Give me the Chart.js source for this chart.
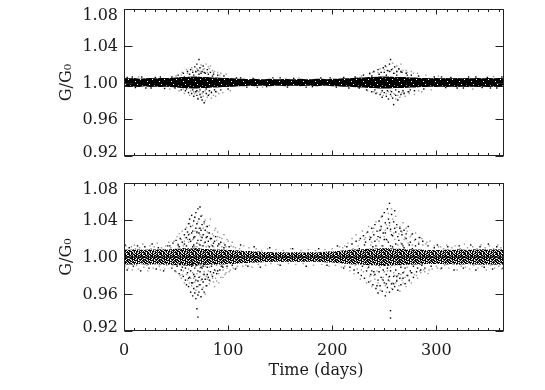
<!DOCTYPE html>
<html>
<head>
<meta charset="utf-8">
<script src="https://cdn.jsdelivr.net/npm/chart.js@4.4.1/dist/chart.umd.min.js"></script>
<style>
  body { margin: 0; background: #fff; }
  #wrap { position: relative; width: 545px; height: 390px; }
  canvas { position: absolute; left: 0; }
  #topChart { top: 0; }
  #bottomChart { top: 170px; }
</style>
</head>
<body>
<div id="wrap">
  <canvas id="topChart" width="545" height="170"></canvas>
  <canvas id="bottomChart" width="545" height="220"></canvas>
</div>
<script>
// axis ticks
const yTickValues = [0.92, 0.96, 1.00, 1.04, 1.08];
const yTickLabels = ['0.92', '0.96', '1.00', '1.04', '1.08'];
const xTickValues = [0, 100, 200, 300];
const xTickLabels = ['0', '100', '200', '300'];

// reference level G/G0 = 1
const refDays = [0, 365];
const refLevel = [1.0, 1.0];

// dense core of the scatter, read as upper/lower edge every 5 days
const bandDays = [0,5,10,15,20,25,30,35,40,45,50,55,60,65,70,75,80,85,90,95,100,105,110,115,120,125,130,135,140,145,150,155,160,165,170,175,180,185,190,195,200,205,210,215,220,225,230,235,240,245,250,255,260,265,270,275,280,285,290,295,300,305,310,315,320,325,330,335,340,345,350,355,360,365];

const topBandHigh = [1.005,1.0045,1.005,1.004,1.0045,1.005,1.0045,1.005,1.005,
  1.005,1.0055,1.006,1.006,1.0065,1.0065,1.006,1.006,1.0055,1.0055,1.005,1.005,
  1.0045,1.004,1.004,1.0035,1.004,1.0035,1.0035,1.004,1.0035,1.0035,1.004,1.0035,1.0035,1.004,1.0035,1.0035,1.004,1.004,1.0035,1.004,1.004,1.0045,1.0045,
  1.005,1.0055,1.0055,1.006,1.006,1.0065,1.0065,1.0065,1.006,1.006,1.006,1.0055,1.0055,1.005,1.005,
  1.0045,1.005,1.0045,1.005,1.0045,1.005,1.0045,1.005,1.0045,1.005,1.0045,1.005,1.0045,1.005,1.0045];
const topBandLow = [0.9955,0.995,0.9955,0.995,0.996,0.995,0.9955,0.995,0.9955,
  0.995,0.9945,0.994,0.994,0.9935,0.9935,0.994,0.994,0.9945,0.9945,0.995,0.995,
  0.9955,0.996,0.996,0.9965,0.996,0.9965,0.9965,0.996,0.9965,0.9965,0.996,0.9965,0.9965,0.996,0.9965,0.9965,0.996,0.9965,0.9965,0.996,0.996,0.9955,0.9955,
  0.995,0.9945,0.9945,0.994,0.994,0.9935,0.9935,0.9935,0.994,0.994,0.994,0.9945,0.9945,0.995,0.995,
  0.9955,0.995,0.9955,0.995,0.9955,0.995,0.9955,0.995,0.9955,0.995,0.9955,0.995,0.9955,0.995,0.9955];

const bottomBandHigh = [1.008,1.0075,1.0085,1.008,1.0075,1.0085,1.008,1.0085,1.0085,
  1.0085,1.009,1.009,1.0095,1.0095,1.009,1.009,1.0085,1.0085,1.008,1.008,1.0075,
  1.0075,1.007,1.0065,1.0065,1.006,1.006,1.0055,1.0055,
  1.005,1.0055,1.005,1.005,1.0055,1.005,1.005,1.0055,1.005,1.0055,1.006,1.006,1.0065,
  1.007,1.0075,1.008,1.008,1.0085,1.009,1.009,1.0095,1.0095,1.0095,1.009,1.009,1.0085,1.0085,1.008,1.008,1.0075,1.0075,1.0075,
  1.0075,1.008,1.0075,1.0085,1.008,1.0075,1.0085,1.008,1.0085,1.008,1.0085,1.008,1.0085];
const bottomBandLow = [0.992,0.992,0.9915,0.9925,0.992,0.9915,0.9925,0.992,0.9915,
  0.9915,0.991,0.991,0.9905,0.9905,0.991,0.991,0.9915,0.9915,0.992,0.992,0.9925,
  0.9925,0.993,0.9935,0.9935,0.994,0.994,0.9945,0.9945,
  0.995,0.9945,0.995,0.995,0.9945,0.995,0.995,0.9945,0.995,0.9945,0.994,0.994,0.9935,
  0.993,0.9925,0.992,0.992,0.9915,0.991,0.991,0.9905,0.9905,0.9905,0.991,0.991,0.9915,0.9915,0.992,0.992,0.9925,0.9925,0.9925,
  0.9925,0.992,0.9925,0.9915,0.992,0.9925,0.9915,0.992,0.9915,0.992,0.9915,0.992,0.9915];

// scattered points [day, G/G0] around the core, black and grey
const topEdgeBlack = [
  [3,1.0055],[8,1.006],[11,0.9945],[17,1.006],[21,0.994],[26,0.994],[30,1.0055],[35,1.006],[39,0.9935],
  [108,1.005],[112,1.005],[118,0.995],[124,1.0045],[128,0.995],[137,0.9955],[143,1.005],[150,1.005],[157,0.995],
  [163,1.0045],[175,0.995],[181,0.9955],[189,1.005],[198,1.005],[204,0.995],[211,1.0055],[216,0.994],
  [298,1.006],[305,1.006],[309,0.9945],[314,1.0055],[320,0.994],[326,0.994],[331,1.006],[338,1.006],
  [344,0.9945],[349,1.0055],[352,0.994],[358,0.994],[363,1.006]
];
const topBurstBlack = [
  [46,1.006],[49,0.994],[52,1.008],[55,0.992],[57,1.01],[58,1.006],[59,0.991],[60,0.993],[61,1.012],[62,0.989],
  [63,1.009],[64,1.014],[65,0.988],[66,1.011],[66,0.992],[67,0.985],[67,1.008],[68,1.017],[69,0.99],[69,1.012],
  [70,1.02],[70,0.986],[70,0.991],[71,1.013],[71,0.982],[72,1.025],[72,1.009],[73,0.987],[73,1.016],[73,0.992],
  [74,0.984],[74,1.01],[75,1.012],[75,0.981],[76,1.018],[76,0.99],[77,0.978],[77,1.011],[78,1.01],[79,0.988],
  [79,0.993],[80,1.014],[81,0.986],[81,1.009],[82,0.991],[83,1.011],[84,0.989],[85,1.007],[86,1.009],[87,0.992],
  [88,0.99],[90,1.008],[93,0.992],[96,1.007],[100,0.993],
  [222,1.006],[226,0.994],[230,1.008],[233,0.992],[236,1.01],[238,0.99],[238,1.007],[240,1.012],[241,0.992],
  [242,0.988],[244,1.014],[245,1.009],[246,0.987],[247,1.011],[248,0.984],[248,0.991],[249,1.016],[250,0.989],
  [250,1.011],[251,1.018],[252,0.985],[252,1.008],[253,1.013],[253,0.991],[254,0.982],[255,1.02],[255,1.012],
  [256,1.025],[256,0.987],[257,1.014],[257,0.99],[258,0.983],[259,0.976],[259,1.01],[260,1.017],[261,0.986],
  [261,0.992],[262,1.012],[262,1.008],[263,0.981],[264,1.015],[264,0.99],[266,0.987],[266,1.012],[267,1.011],
  [268,0.991],[269,0.988],[271,1.01],[272,1.008],[273,0.99],[275,0.992],[276,1.008],[279,0.991],[283,1.007],[288,0.993]
];
const topEdgeGrey = [
  [14,1.006],[44,0.993],[133,0.995],[168,1.005],[302,1.007],[335,0.993],[355,1.0065]
];
const topBurstGrey = [
  [50,1.007],[53,0.991],[55,1.008],[56,1.011],[57,0.993],[58,0.988],[60,1.014],[61,1.01],[63,0.986],[64,0.991],
  [65,1.016],[66,1.013],[67,0.99],[68,0.988],[69,1.011],[70,1.015],[71,0.983],[72,0.99],[73,1.012],[74,1.019],
  [75,0.988],[76,0.985],[76,1.014],[77,1.015],[78,0.98],[78,0.991],[79,1.02],[80,0.984],[80,1.011],[81,1.017],
  [82,0.987],[82,1.015],[83,1.018],[84,0.983],[84,0.99],[85,1.013],[86,0.986],[86,1.011],[87,1.012],[88,0.985],
  [89,0.99],[90,1.011],[91,0.988],[92,1.008],[93,1.01],[95,0.989],[98,1.009],[102,0.991],
  [228,1.007],[234,0.991],[236,1.009],[239,1.011],[240,0.99],[243,0.989],[244,1.011],[246,1.015],[247,0.989],
  [249,0.986],[250,1.014],[252,1.017],[252,0.988],[254,0.99],[254,1.013],[256,1.012],[256,0.991],[257,0.985],
  [258,1.021],[258,1.015],[259,0.988],[260,1.01],[260,0.987],[261,0.982],[262,1.018],[262,1.012],[263,0.986],
  [264,1.014],[264,0.99],[265,0.984],[266,1.02],[266,1.011],[267,0.989],[268,1.013],[269,0.989],[270,0.985],
  [271,1.013],[272,1.011],[274,0.988],[274,0.99],[276,1.012],[278,1.01],[279,0.987],[282,1.01],[283,0.991],
  [286,0.99],[290,1.008],[295,0.992]
];

// outside the bursts the loose points are mostly grey
const bottomEdgeGrey = [
  [0,1.009],[1,0.99],[2,1.012],[3,1.008],[4,0.988],[6,0.992],[7,1.011],[8,0.986],[10,1.013],[11,1.009],
  [12,0.991],[14,0.987],[15,1.01],[17,0.993],[18,1.014],[19,0.989],[21,1.008],[22,0.991],[23,0.985],[25,1.012],
  [26,1.009],[28,0.988],[29,1.011],[30,0.992],[32,1.015],[34,0.99],[35,0.986],[36,1.01],[37,1.008],[39,0.987],
  [40,1.012],[41,0.991],[43,1.016],
  [105,1.011],[108,0.988],[111,1.009],[114,0.99],[115,1.012],[117,0.991],[120,1.01],[123,0.989],[127,1.009],
  [129,0.992],[132,1.007],[136,0.991],[138,1.009],[141,0.993],[146,1.008],[148,0.992],[153,1.007],[158,0.993],
  [160,1.009],[165,0.992],[170,1.007],[172,0.993],[177,1.008],[182,0.991],[184,1.007],[190,0.992],[193,1.008],
  [197,0.99],[200,1.009],[203,0.991],[207,1.011],[209,0.989],[212,1.012],
  [300,0.99],[302,1.011],[304,0.987],[307,1.009],[308,0.991],[310,1.013],[312,0.988],[315,1.01],[316,0.992],
  [318,1.012],[320,0.986],[323,1.009],[324,0.99],[327,1.014],[328,0.989],[330,1.01],[332,0.987],[335,1.011],
  [336,0.991],[339,1.009],[340,0.988],[343,1.013],[344,0.99],[347,1.01],[348,0.986],[351,1.012],[352,0.991],
  [355,1.009],[356,0.988],[359,1.013],[360,0.99],[362,1.01],[363,0.987],[365,1.011]
];
const bottomEdgeBlack = [
  [1,1.013],[3,0.986],[5,1.01],[9,0.99],[13,1.012],[16,0.985],[20,1.011],[24,0.988],[27,1.014],[31,0.987],
  [33,1.01],[38,0.985],[42,1.012],
  [107,0.987],[112,1.013],[119,0.99],[125,1.011],[131,0.989],[140,1.01],[150,0.991],[162,1.009],[175,0.99],
  [187,1.009],[195,0.991],[205,1.012],[211,0.988],
  [301,1.013],[305,0.988],[311,1.011],[317,0.986],[322,1.012],[326,0.988],[333,1.013],[338,0.986],[342,1.011],
  [346,0.989],[350,1.014],[354,0.987],[358,1.011],[364,0.988]
];
const bottomBurstBlack = [
  [44,1.012],[46,0.988],[47,1.015],[49,0.985],[50,1.018],[51,0.99],[51,1.007],[52,1.013],[53,0.982],[53,1.011],
  [54,1.02],[54,0.993],[55,0.986],[56,1.016],[56,0.989],[57,0.979],[57,1.009],[58,1.024],[58,0.992],[58,1.014],
  [59,1.03],[59,0.975],[59,0.988],[60,1.012],[60,0.97],[60,1.021],[61,1.027],[61,0.983],[61,0.994],[61,1.008],
  [62,1.036],[62,0.968],[62,0.977],[62,1.024],[63,1.041],[63,0.978],[63,1.019],[63,0.991],[64,0.962],[64,1.033],
  [64,1.017],[64,0.985],[65,1.045],[65,0.972],[65,0.99],[65,1.026],[66,1.028],[66,0.958],[66,1.011],[66,0.993],
  [66,0.972],[67,1.039],[67,0.966],[67,0.981],[67,1.013],[67,1.021],[68,1.043],[68,1.022],[68,0.961],[68,0.988],
  [68,0.979],[69,1.048],[69,0.975],[69,0.955],[69,1.031],[69,1.009],[70,1.036],[70,0.968],[70,1.015],[70,0.944],
  [70,0.991],[70,1.027],[71,1.052],[71,0.959],[71,0.985],[71,0.935],[71,1.018],[71,0.974],[72,1.041],[72,1.026],
  [72,0.962],[72,0.978],[72,0.993],[72,1.009],[73,1.054],[73,0.97],[73,1.031],[73,0.984],[73,1.013],[74,1.018],
  [74,0.957],[74,1.044],[74,1.029],[74,0.989],[75,1.035],[75,0.965],[75,0.988],[75,1.021],[75,0.976],[76,1.024],
  [76,0.973],[76,1.012],[76,0.99],[77,1.038],[77,0.962],[77,1.005],[77,0.981],[78,1.029],[78,0.976],[78,1.016],
  [78,0.993],[79,1.021],[79,0.969],[79,1.008],[80,1.033],[80,0.981],[80,0.989],[80,1.022],[81,1.017],[81,0.978],
  [82,0.975],[82,1.026],[82,1.011],[83,0.984],[83,1.02],[84,1.02],[84,0.99],[85,0.979],[85,1.012],[86,1.015],
  [86,0.983],[87,0.986],[87,1.017],[88,1.022],[88,0.993],[89,0.982],[90,1.012],[90,0.985],[91,1.014],[92,0.986],
  [93,1.016],[94,0.99],[95,0.989],[96,1.01],[97,1.013],[99,0.99],[101,1.011],[104,0.991],
  [214,1.011],[217,0.989],[219,1.014],[221,0.986],[223,1.017],[225,0.983],[226,1.009],[227,1.02],[228,0.98],
  [229,0.99],[230,1.023],[231,0.977],[231,1.013],[232,1.016],[233,0.985],[233,1.008],[234,1.027],[235,0.973],
  [235,0.989],[236,1.019],[237,0.981],[237,1.021],[238,1.031],[238,0.985],[239,0.97],[239,1.011],[240,1.024],
  [240,0.984],[241,1.035],[241,0.981],[241,1.017],[242,0.966],[242,1.012],[243,1.028],[243,0.992],[243,0.969],
  [244,0.975],[244,0.961],[244,1.022],[245,1.039],[245,0.984],[246,0.969],[246,1.021],[246,1.029],[247,1.033],
  [247,0.978],[247,0.992],[248,1.044],[248,0.963],[248,1.012],[249,1.026],[249,0.986],[249,0.975],[250,1.048],
  [250,0.972],[250,1.019],[250,0.991],[251,1.037],[251,0.958],[251,1.026],[252,1.019],[252,0.981],[252,0.971],
  [253,1.052],[253,0.967],[253,1.031],[253,0.988],[254,1.041],[254,0.975],[254,1.016],[255,1.058],[255,0.962],
  [255,0.979],[255,1.037],[256,1.03],[256,0.942],[256,0.934],[256,1.012],[256,0.985],[257,1.046],[257,0.971],
  [257,1.024],[258,1.023],[258,0.965],[258,0.992],[258,1.011],[259,1.038],[259,0.979],[259,0.971],[260,1.05],
  [260,0.968],[260,1.031],[261,1.027],[261,0.986],[261,1.014],[262,0.974],[262,1.035],[262,0.979],[263,0.964],
  [263,1.022],[264,1.018],[264,0.982],[264,0.994],[265,1.031],[265,0.977],[266,0.97],[266,1.028],[266,0.989],
  [267,1.024],[267,1.014],[268,0.977],[268,1.012],[268,0.983],[269,1.029],[269,1.01],[270,0.971],[270,0.988],
  [271,1.02],[271,1.025],[272,0.98],[272,0.993],[273,1.033],[274,0.975],[274,1.013],[275,1.016],[275,0.985],
  [276,0.983],[277,1.025],[277,1.009],[278,0.978],[278,0.99],[280,1.019],[280,1.012],[281,0.984],[282,0.988],
  [283,1.014],[284,1.021],[285,0.986],[286,0.991],[287,1.017],[289,0.988],[292,1.012],[295,0.99],[298,1.01]
];
const bottomBurstGrey = [
  [45,1.01],[47,0.991],[48,1.017],[50,0.984],[51,1.022],[52,0.993],[52,1.014],[53,1.025],[54,0.98],[54,1.009],
  [55,1.019],[55,0.977],[56,1.028],[56,0.981],[57,0.985],[57,1.012],[58,0.972],[58,1.017],[59,1.021],[59,0.991],
  [60,0.981],[60,1.032],[61,0.975],[61,1.019],[62,1.016],[62,0.987],[63,1.025],[63,0.972],[63,1.036],[64,0.977],
  [64,1.009],[65,0.969],[65,0.994],[66,1.034],[66,0.983],[66,1.019],[67,1.02],[67,0.977],[68,0.973],[68,1.011],
  [68,1.028],[69,0.964],[69,0.99],[70,1.026],[70,0.982],[70,1.011],[71,1.038],[71,0.968],[72,0.97],[72,1.014],
  [72,1.031],[73,0.988],[73,0.979],[73,1.024],[74,1.022],[74,0.975],[74,0.992],[75,1.045],[75,1.012],[76,0.967],
  [76,1.031],[76,0.981],[77,0.984],[77,1.015],[77,1.036],[78,0.96],[78,1.04],[78,0.99],[79,0.979],[79,1.033],
  [79,1.011],[80,1.027],[80,0.969],[80,0.976],[81,1.012],[81,0.985],[81,1.026],[82,1.034],[82,0.989],[82,0.971],
  [83,0.974],[83,1.019],[83,1.041],[84,0.981],[84,1.013],[85,1.025],[85,0.977],[85,0.992],[86,1.011],[86,1.023],
  [86,0.973],[87,0.968],[87,1.029],[87,1.008],[88,0.985],[88,1.031],[88,0.977],[89,1.018],[89,0.974],[89,0.991],
  [90,1.022],[90,1.027],[91,0.982],[91,0.972],[92,1.014],[92,1.021],[93,0.978],[93,0.99],[94,1.02],[94,1.011],
  [95,0.986],[95,0.978],[96,1.015],[96,1.024],[97,0.981],[98,1.011],[98,0.983],[99,0.988],[99,1.019],[100,1.017],
  [101,0.984],[102,0.986],[103,1.012],[104,1.016],[105,0.988],[107,1.01],[109,0.99],
  [210,1.01],[212,0.99],[215,1.015],[217,0.985],[219,1.02],[220,1.009],[221,0.982],[222,0.991],[223,1.024],
  [224,0.987],[225,1.012],[226,1.018],[227,0.976],[228,0.986],[229,1.028],[230,0.984],[231,1.019],[232,1.021],
  [233,0.972],[233,1.026],[234,0.988],[235,1.033],[236,0.979],[236,1.022],[237,1.013],[237,0.974],[238,0.968],
  [238,1.016],[239,1.027],[240,0.98],[240,1.031],[241,0.976],[242,1.038],[242,0.991],[243,0.985],[243,1.019],
  [244,0.972],[245,1.017],[245,1.028],[246,0.964],[246,0.989],[247,1.03],[247,1.043],[248,0.976],[249,0.978],
  [249,1.012],[250,1.022],[250,0.984],[251,0.969],[251,1.029],[252,1.035],[252,0.962],[253,0.985],[253,1.018],
  [254,1.047],[254,0.978],[255,0.974],[255,1.034],[256,1.028],[256,0.989],[257,0.966],[257,1.052],[258,1.041],
  [258,0.972],[259,0.983],[259,1.026],[260,1.019],[260,0.98],[261,0.972],[261,1.044],[262,1.032],[262,0.975],
  [263,0.98],[263,1.013],[264,1.025],[264,0.969],[265,0.963],[265,1.033],[266,1.015],[266,0.981],[267,0.975],
  [267,1.027],[268,1.037],[268,0.972],[269,0.984],[269,1.019],[270,1.021],[270,0.978],[271,0.968],[271,1.031],
  [272,1.028],[272,0.989],[273,0.98],[273,1.015],[274,0.974],[275,1.022],[276,0.972],[276,1.024],[277,1.013],
  [277,0.983],[279,0.981],[279,1.018],[280,1.026],[281,0.98],[282,0.977],[283,1.016],[283,1.021],[284,0.985],
  [285,0.983],[286,1.02],[287,1.013],[288,0.986],[289,0.984],[290,1.014],[291,1.016],[292,0.982],[293,0.986],
  [294,1.017],[296,0.987],[298,1.012],[301,0.988],[304,1.011]
];

const FONT = '"DejaVu Serif", "Liberation Serif", serif';

// dotted texture so the core looks like packed points
function dotPattern(rows) {
  const c = document.createElement('canvas');
  c.width = rows[0].length;
  c.height = rows.length;
  const g = c.getContext('2d');
  g.fillStyle = '#fff';
  g.fillRect(0, 0, c.width, c.height);
  rows.forEach((row, j) => {
    for (let i = 0; i < row.length; i++) {
      if (row[i] === '.') continue;
      g.fillStyle = row[i] === 'k' ? '#000' : '#8c8c8c';
      g.fillRect(i, j, 1, 1);
    }
  });
  return g.createPattern(c, 'repeat');
}

const topTexture = dotPattern([
  'kkkkkkkkkkkk',
  'kkk.kkkkkkkk',
  'kkkkkkkkgkkk',
  'kkkkkkkkkkkk',
  'kkkkk.kkkkkk',
  'kkkkkkkkkkgk',
  'kgkkkkkkkkkk',
  'kkkkkkkk.kkk'
]);
const bottomTexture = dotPattern([
  'kk.kgkk.kkg.kk.k',
  '.kkgk.kkk.kkgkk.',
  'kg.kk.gkk.k.kkgk',
  'kkk.kgk.kgkkk.kk',
  '.gkkk.kk.kkg.kkg',
  'kk.gkkk.gk.kkk.k',
  'gkk.k.kkkk.gk.kk',
  'k.kkgk.g.kkk.kgk',
  'kkg.kkkk.k.gkkk.',
  '.kkk.gk.kkgk.k.k',
  'kg.kk.k.kg.kkgkk',
  'kk.kkg.kk.kk.k.g'
]);

const zip = (xs, ys) => xs.map((d, i) => ({ x: d, y: ys[i] }));

// IDL style box: frame, inward ticks, labels
const idlAxes = {
  id: 'idlAxes',
  afterDatasetsDraw(chart, args, opts) {
    const { ctx, chartArea: a, scales: { x, y } } = chart;
    ctx.save();
    ctx.strokeStyle = '#222';
    ctx.lineWidth = 1;
    const l = Math.round(a.left) + 0.5, r = Math.round(a.right) - 0.5;
    const t = Math.round(a.top) + 0.5, b = Math.round(a.bottom) - 0.5;
    ctx.strokeRect(l, t, r - l, b - t);
    ctx.beginPath();
    for (let d = 0; d <= 365; d += 10) {
      const px = Math.round(x.getPixelForValue(d)) + 0.5;
      const len = d % 100 === 0 ? 5 : 2.5;
      ctx.moveTo(px, b); ctx.lineTo(px, b - len);
      ctx.moveTo(px, t); ctx.lineTo(px, t + len);
    }
    yTickValues.forEach(v => {
      const py = Math.round(y.getPixelForValue(v)) + 0.5;
      ctx.moveTo(l, py); ctx.lineTo(l + 8, py);
      ctx.moveTo(r, py); ctx.lineTo(r - 8, py);
    });
    ctx.stroke();

    ctx.fillStyle = '#1a1a1a';
    ctx.font = '16px ' + FONT;
    ctx.textAlign = 'right';
    ctx.textBaseline = 'middle';
    yTickValues.forEach((v, i) => {
      let py = y.getPixelForValue(v) + 1;
      if (i === yTickValues.length - 1) py += 6;
      if (i === 0) py -= 4;
      ctx.fillText(yTickLabels[i], a.left - 6, py);
    });

    ctx.save();
    ctx.translate(a.left - 57, (a.top + a.bottom) / 2);
    ctx.rotate(-Math.PI / 2);
    ctx.textAlign = 'center';
    ctx.fillText('G/G\u2080', 0, 0);
    ctx.restore();

    if (opts.xLabels) {
      ctx.textAlign = 'center';
      xTickValues.forEach((v, i) => {
        ctx.fillText(xTickLabels[i], x.getPixelForValue(v), a.bottom + 20);
      });
      ctx.fillText('Time (days)', (a.left + a.right) / 2 + 2, a.bottom + 40);
    }
    ctx.restore();
  }
};

function dots(data, colour, order) {
  return { data: data, pointStyle: 'rect', pointRadius: 1.0, borderWidth: 0,
    backgroundColor: colour, order: order };
}

function makePanel(id, high, low, texture, black, grey, pad, xLabels) {
  return new Chart(document.getElementById(id), {
    type: 'scatter',
    data: {
      datasets: [
        { data: zip(bandDays, high), showLine: true, fill: '+1', backgroundColor: texture,
          borderColor: 'rgba(0,0,0,0)', borderWidth: 0, pointRadius: 0, order: 5 },
        { data: zip(bandDays, low), showLine: true, fill: false,
          borderColor: 'rgba(0,0,0,0)', borderWidth: 0, pointRadius: 0, order: 5 },
        dots(grey, '#9a9a9a', 4),
        dots(black, '#000', 3),
        { data: zip(refDays, refLevel), showLine: true, borderColor: '#000', borderWidth: 1,
          pointRadius: 0, fill: false, order: 1 }
      ]
    },
    options: {
      responsive: false,
      animation: false,
      events: [],
      layout: { padding: pad },
      scales: {
        x: { type: 'linear', min: 0, max: 365, display: false },
        y: { type: 'linear', min: 0.92, max: 1.08, display: false }
      },
      plugins: {
        legend: { display: false },
        tooltip: { enabled: false },
        idlAxes: { xLabels: xLabels }
      }
    },
    plugins: [idlAxes]
  });
}

makePanel('topChart', topBandHigh, topBandLow, topTexture,
  topEdgeBlack.concat(topBurstBlack), topEdgeGrey.concat(topBurstGrey),
  { left: 124, right: 41, top: 9, bottom: 14 }, false);
makePanel('bottomChart', bottomBandHigh, bottomBandLow, bottomTexture,
  bottomEdgeBlack.concat(bottomBurstBlack), bottomEdgeGrey.concat(bottomBurstGrey),
  { left: 124, right: 41, top: 13, bottom: 59 }, true);
</script>
</body>
</html>
